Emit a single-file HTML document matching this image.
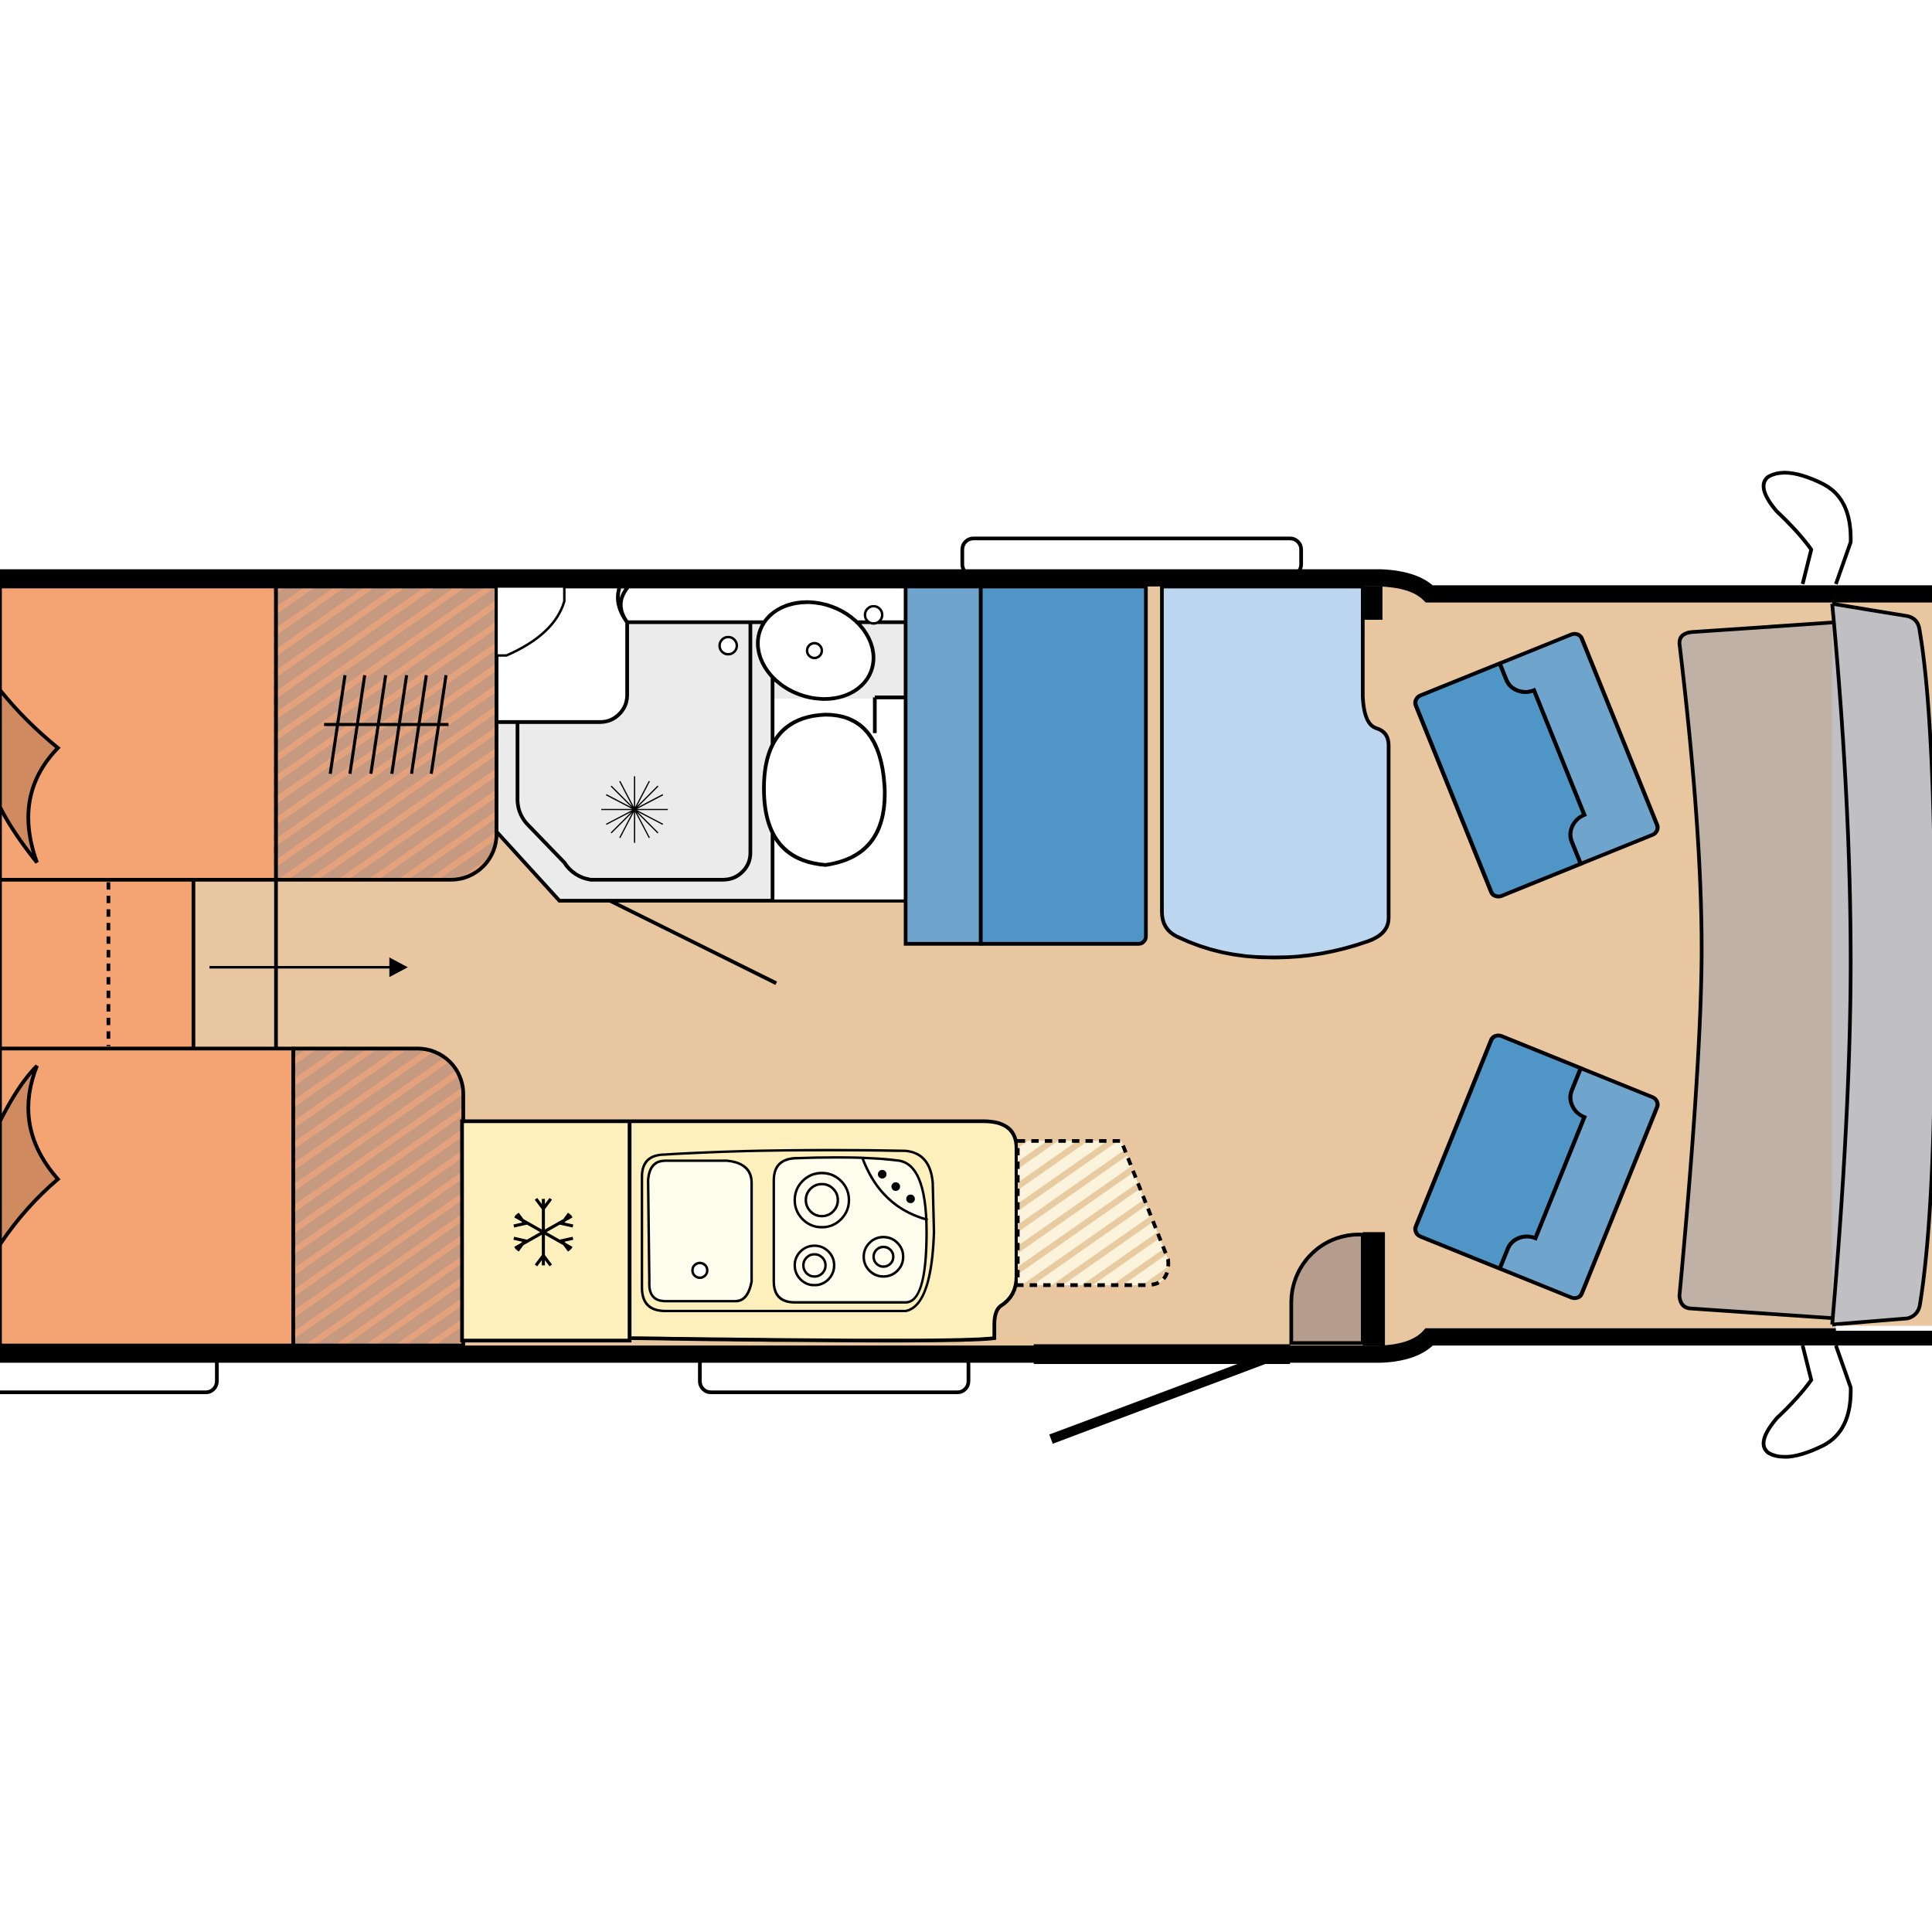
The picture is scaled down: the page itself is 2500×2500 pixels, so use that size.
<!DOCTYPE html>
<html><head><meta charset="utf-8"><style>html,body{margin:0;padding:0;background:#fff}svg{display:block}</style></head>
<body>
<svg width="2500" height="2500" viewBox="0 0 1568 1568" xmlns="http://www.w3.org/2000/svg">
<defs>
<pattern id="h1" width="14" height="14" patternUnits="userSpaceOnUse" patternTransform="rotate(-35)">
<rect width="14" height="14" fill="#C69A80"/><rect width="14" height="5" fill="#E3A27C"/></pattern>
<pattern id="h2" width="14" height="14" patternUnits="userSpaceOnUse" patternTransform="rotate(-35)">
<rect width="14" height="14" fill="#FCF3DC"/><rect width="14" height="5" fill="#E8CBA0"/></pattern>
</defs>
<rect width="1568" height="1568" fill="#fff"/>
<!-- floor -->
<path d="M0 470H1120Q1148 472 1160 488H1568V1078H1160Q1148 1096 1120 1098H0Z" fill="#E7C6A0"/>
<!-- steps -->
<rect x="781" y="437" width="275" height="30" rx="9" fill="#fff" stroke="#000" stroke-width="3"/>
<rect x="-10" y="1098" width="186" height="32" rx="9" fill="#fff" stroke="#000" stroke-width="3"/>
<rect x="568" y="1098" width="218" height="32" rx="9" fill="#fff" stroke="#000" stroke-width="3"/>
<!-- top bed -->
<rect x="0" y="476" width="224" height="238" fill="#F4A373" stroke="#000" stroke-width="3"/>
<path d="M224 476H403V677a37 37 0 0 1-37 37H224Z" fill="url(#h1)" stroke="#000" stroke-width="3"/>
<line x1="224" y1="478" x2="224" y2="712" stroke="#000" stroke-width="3" stroke-dasharray="6,5"/>
<path d="M0 560Q20 585 47 607Q10 645 30 700Q10 675 0 655Z" fill="#CF8A60" stroke="#000" stroke-width="3"/>
<g stroke="#000" stroke-width="2.5"><line x1="263" y1="588" x2="364" y2="588"/>
<line x1="280" y1="548" x2="268" y2="628"/><line x1="296" y1="548" x2="284" y2="628"/><line x1="313" y1="548" x2="301" y2="628"/><line x1="330" y1="548" x2="318" y2="628"/><line x1="346" y1="548" x2="334" y2="628"/><line x1="362" y1="548" x2="350" y2="628"/></g>
<!-- middle strip -->
<rect x="0" y="714" width="157" height="137" fill="#F4A373" stroke="#000" stroke-width="3"/>
<line x1="88" y1="716" x2="88" y2="849" stroke="#000" stroke-width="3" stroke-dasharray="6,5"/>
<line x1="224" y1="714" x2="224" y2="851" stroke="#000" stroke-width="3"/>
<line x1="170" y1="785" x2="318" y2="785" stroke="#000" stroke-width="2"/>
<path d="M316 777L331 785L316 793Z" fill="#000"/>
<!-- bottom bed -->
<rect x="0" y="851" width="238" height="241" fill="#F4A373" stroke="#000" stroke-width="3"/>
<path d="M238 851H339a37 37 0 0 1 37 37V1092H238Z" fill="url(#h1)" stroke="#000" stroke-width="3"/>
<line x1="238" y1="853" x2="238" y2="1090" stroke="#000" stroke-width="3" stroke-dasharray="6,5"/>
<path d="M0 910Q15 880 30 865Q10 915 47 957Q20 980 0 1010Z" fill="#CF8A60" stroke="#000" stroke-width="3"/>
<!-- bathroom -->
<path d="M403 476H735V731H454L403 675Z" fill="#EBEBEB" stroke="#000" stroke-width="3"/>
<path d="M403 476H503Q498 490 509 505V564a22 22 0 0 1-22 22H403Z" fill="#fff" stroke="#000" stroke-width="3"/>
<path d="M503 476H735V505H509Q498 490 510 476Z" fill="#fff" stroke="#000" stroke-width="3"/>
<path d="M403 476H458V488Q450 515 411 532H403Z" fill="#fff" stroke="#000" stroke-width="2"/>
<path d="M420 586V650a30 30 0 0 0 9 20L458 700a30 30 0 0 0 22 14H587a22 22 0 0 0 22-22V505" fill="none" stroke="#000" stroke-width="3"/>
<rect x="628" y="567" width="106" height="163" fill="#fff"/>
<line x1="627" y1="545" x2="627" y2="731" stroke="#000" stroke-width="3"/>
<line x1="710" y1="566" x2="735" y2="566" stroke="#000" stroke-width="3"/>
<line x1="710" y1="566" x2="710" y2="595" stroke="#000" stroke-width="3"/>
<ellipse cx="662" cy="528" rx="48" ry="38" transform="rotate(20 662 528)" fill="#fff" stroke="#000" stroke-width="3"/>
<circle cx="661" cy="528" r="6" fill="#fff" stroke="#000" stroke-width="2"/>
<circle cx="709" cy="499" r="7" fill="#fff" stroke="#000" stroke-width="2"/>
<circle cx="591" cy="524" r="7" fill="#fff" stroke="#000" stroke-width="2"/>
<path d="M620 640Q620 582 670 580Q715 580 718 640Q720 695 670 702Q620 698 620 640Z" fill="#fff" stroke="#000" stroke-width="3"/>
<g stroke="#000" stroke-width="1"><line x1="488" y1="657" x2="542" y2="657"/><line x1="515" y1="630" x2="515" y2="684"/><line x1="496" y1="638" x2="534" y2="676"/><line x1="534" y1="638" x2="496" y2="676"/><line x1="503" y1="634" x2="527" y2="680"/><line x1="527" y1="634" x2="503" y2="680"/><line x1="492" y1="645" x2="538" y2="669"/><line x1="538" y1="645" x2="492" y2="669"/></g>
<line x1="495" y1="731" x2="630" y2="798" stroke="#000" stroke-width="3"/>
<!-- blue seats -->
<rect x="735" y="476" width="61" height="290" fill="#6FA5CC" stroke="#000" stroke-width="3"/>
<path d="M796 476H930V760a6 6 0 0 1-6 6H796Z" fill="#4F95C5" stroke="#000" stroke-width="3"/>
<path d="M943 476H1106V565Q1107 588 1117 591Q1127 594 1127 605V745Q1127 758 1110 764Q1070 778 1030 777Q990 777 955 760Q943 754 943 740Z" fill="#BCD6EF" stroke="#000" stroke-width="3"/>
<!-- kitchen -->
<rect x="375" y="910" width="136" height="178" fill="#FDF0BD" stroke="#000" stroke-width="3"/>
<path d="M511 910H798Q825 910 825 932V1036Q825 1052 812 1060Q807 1064 807 1075V1086Q780 1090 511 1086Z" fill="#FDF0BD" stroke="#000" stroke-width="3"/>
<path d="M826 926H910L948 1022Q950 1043 930 1043H826Z" fill="url(#h2)" stroke="#000" stroke-width="3" stroke-dasharray="6,5"/>
<path d="M540 937Q620 932 735 934Q755 936 757 960L758 1000Q756 1060 735 1064H540Q521 1064 521 1045V955Q521 937 540 937Z" fill="none" stroke="#000" stroke-width="2"/>
<path d="M540 942H590Q610 944 610 960V1040Q607 1056 597 1056H540Q526 1056 527 1040L526 958Q527 942 540 942Z" fill="#FFFDEE" stroke="#000" stroke-width="2"/>
<circle cx="568" cy="1031" r="6" fill="#fff" stroke="#000" stroke-width="2"/>
<path d="M645 940Q700 938 730 942Q752 946 752 1000Q752 1057 735 1057H645Q628 1057 628 1040V958Q628 941 645 940Z" fill="#FFFDEE" stroke="#000" stroke-width="2"/>
<path d="M700 940Q715 980 753 990" fill="none" stroke="#000" stroke-width="2"/>
<circle cx="716" cy="953" r="3.5"/><circle cx="727" cy="963" r="3.5"/><circle cx="739" cy="973" r="3.5"/>
<g fill="none" stroke="#000" stroke-width="2"><circle cx="667" cy="974" r="22"/><circle cx="667" cy="974" r="13"/><circle cx="661" cy="1027" r="16"/><circle cx="661" cy="1027" r="9"/><circle cx="717" cy="1020" r="16"/><circle cx="717" cy="1020" r="8"/></g>
<g stroke="#000" stroke-width="2.5" fill="none"><line x1="441" y1="973" x2="441" y2="1027"/><line x1="418" y1="987" x2="464" y2="1013"/><line x1="418" y1="1013" x2="464" y2="987"/>
<path d="M435 973L441 981L447 973M435 1027L441 1019L447 1027M417 995L426 993L420 985M465 995L456 993L462 985M417 1005L426 1007L420 1015M465 1005L456 1007L462 1015"/></g>
<!-- door -->
<path d="M1048 1090V1058a55 55 0 0 1 58-56V1090Z" fill="#B59C8C" stroke="#000" stroke-width="3"/>
<rect x="1106" y="1000" width="18" height="92" fill="#000"/>
<rect x="1106" y="476" width="16" height="27" fill="#000"/>
<line x1="853" y1="1168" x2="1045" y2="1096" stroke="#000" stroke-width="8"/>
<rect x="840" y="1092" width="206" height="14" fill="#fff" stroke="#000" stroke-width="2"/>
<!-- walls -->
<path d="M0 469H1120Q1148 470 1160 482H1568" fill="none" stroke="#000" stroke-width="14"/>
<path d="M0 1099H1120Q1148 1098 1160 1085H1568" fill="none" stroke="#000" stroke-width="14"/>
<!-- dash -->
<path d="M1363 522Q1363 514 1373 513L1490 505V1070L1373 1062Q1364 1062 1363 1052Q1380 870 1381 780Q1382 680 1363 522Z" fill="#BFB1A6" stroke="#000" stroke-width="3"/>
<path d="M1487 490L1548 500Q1557 502 1558 512Q1568 570 1570 700V880Q1568 1000 1558 1060Q1556 1068 1548 1070L1487 1075" fill="#C0BFC3" stroke="#000" stroke-width="3"/>
<path d="M1487 490Q1502 650 1502 780Q1502 900 1487 1075" fill="none" stroke="#000" stroke-width="3"/>
<rect x="1490" y="1076" width="78" height="4" fill="#fff"/>
<!-- mirrors -->
<path d="M1463 474L1470 446Q1460 432 1442 415Q1425 395 1435 387Q1450 378 1480 393Q1503 405 1502 440L1490 474" fill="#fff" stroke="#000" stroke-width="3"/>
<path d="M1463 1092L1470 1120Q1460 1134 1442 1151Q1425 1171 1435 1179Q1450 1188 1480 1173Q1503 1161 1502 1126L1490 1092" fill="#fff" stroke="#000" stroke-width="3"/>
<!-- cab seats -->
<g transform="translate(1247 621) rotate(-22) scale(1.1 1.02) translate(-1240 -621)"><path d="M1180 535H1300a6 6 0 0 1 6 6V701a6 6 0 0 1-6 6H1180a6 6 0 0 1-6-6V541a6 6 0 0 1 6-6Z" fill="#6FA5CC" stroke="#000" stroke-width="3"/>
<path d="M1174 541a6 6 0 0 1 6-6H1243V549a16 16 0 0 0 16 16V672a16 16 0 0 0-16 16V707H1180a6 6 0 0 1-6-6Z" fill="#4F95C5" stroke="#000" stroke-width="3"/></g>
<g transform="translate(1247 947) rotate(22) scale(1.1 1.02) translate(-1240 -947)"><path d="M1180 861H1300a6 6 0 0 1 6 6V1027a6 6 0 0 1-6 6H1180a6 6 0 0 1-6-6V867a6 6 0 0 1 6-6Z" fill="#6FA5CC" stroke="#000" stroke-width="3"/>
<path d="M1174 867a6 6 0 0 1 6-6H1243V880a16 16 0 0 0 16 16V1000a16 16 0 0 0-16 16V1033H1180a6 6 0 0 1-6-6Z" fill="#4F95C5" stroke="#000" stroke-width="3"/></g>
</svg>
</body></html>
